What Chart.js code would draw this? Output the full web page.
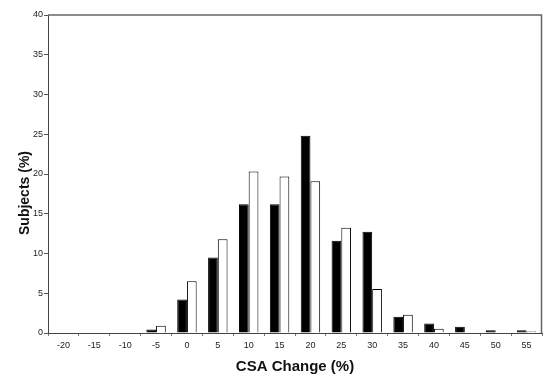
<!DOCTYPE html>
<html>
<head>
<meta charset="utf-8">
<script src="https://cdn.jsdelivr.net/npm/chart.js@4/dist/chart.umd.min.js"></script>
<style>
  body { margin: 0; background: #fff; }
  #wrap { width: 543px; height: 379px; }
</style>
</head>
<body>
<div id="wrap"><canvas id="chart" width="543" height="379"></canvas></div>
<script>
// CSA change bins (%)
const categories = ['-20', '-15', '-10', '-5', '0', '5', '10', '15', '20', '25', '30', '35', '40', '45', '50', '55'];
// filled bars
const blackSeries = [0, 0, 0, 0.45, 4.2, 9.5, 16.2, 16.2, 24.8, 11.6, 12.75, 2.05, 1.2, 0.8, 0.35, 0.35];
// open bars
const whiteSeries = [0, 0, 0, 0.9, 6.5, 11.8, 20.3, 19.7, 19.1, 13.25, 5.55, 2.3, 0.55, 0, 0, 0.2];
const yTicks = { min: 0, max: 40, step: 5 };

// frame round the plot + rotated y title
const framePlugin = {
  id: 'frame',
  afterDraw(chart) {
    const { ctx, chartArea: a } = chart;
    ctx.save();
    ctx.strokeStyle = '#666';
    ctx.lineWidth = 1.5;
    ctx.beginPath();
    ctx.moveTo(a.left, a.top);
    ctx.lineTo(a.right - 0.5, a.top);
    ctx.lineTo(a.right - 0.5, a.bottom);
    ctx.stroke();
    ctx.translate(25, 193);
    ctx.rotate(-Math.PI / 2);
    ctx.font = 'bold 14px Arial, "Liberation Sans", sans-serif';
    ctx.fillStyle = '#111';
    ctx.textAlign = 'center';
    ctx.textBaseline = 'middle';
    ctx.fillText('Subjects (%)', 0, 0);
    ctx.restore();
  }
};

const tickFont = { family: 'Arial, "Liberation Sans", sans-serif', size: 9 };

new Chart(document.getElementById('chart').getContext('2d'), {
  type: 'bar',
  data: {
    labels: categories,
    datasets: [{
      data: blackSeries,
      backgroundColor: '#000',
      borderColor: '#000',
      borderWidth: 1
    }, {
      data: whiteSeries,
      backgroundColor: '#fff',
      borderColor: '#000',
      borderWidth: 1
    }]
  },
  options: {
    responsive: false,
    animation: false,
    layout: { padding: { top: 15, right: 1, left: 0, bottom: 0 } },
    plugins: { legend: { display: false }, tooltip: { enabled: false } },
    datasets: { bar: { categoryPercentage: 0.63, barPercentage: 1.0 } },
    scales: {
      x: {
        grid: { offset: true, drawOnChartArea: false, tickLength: 3, color: '#777' },
        border: { color: '#444', width: 1 },
        ticks: { font: tickFont, color: '#222', padding: 4, maxRotation: 0 },
        title: {
          display: true,
          text: 'CSA Change (%)',
          font: { family: 'Arial, "Liberation Sans", sans-serif', size: 15, weight: 'bold' },
          color: '#111',
          padding: { top: 0, bottom: 3 }
        },
        afterFit(scale) { scale.height = 46; }
      },
      y: {
        min: yTicks.min,
        max: yTicks.max,
        grid: { drawOnChartArea: false, tickLength: 4, color: '#555' },
        border: { color: '#444', width: 1 },
        ticks: { stepSize: yTicks.step, font: tickFont, color: '#222', padding: 1 },
        afterFit(scale) { scale.width = 48; }
      }
    }
  },
  plugins: [framePlugin]
});
</script>
</body>
</html>
